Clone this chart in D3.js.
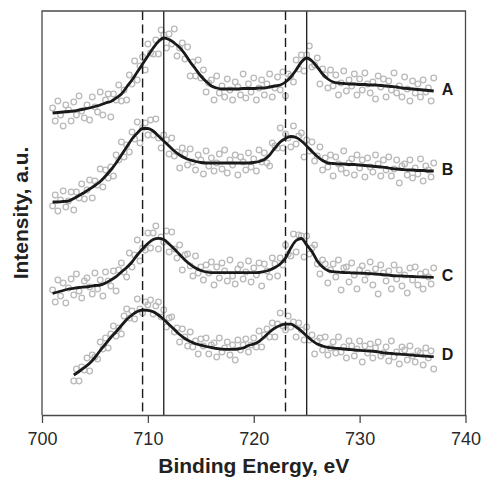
<!DOCTYPE html>
<html><head><meta charset="utf-8">
<script src="https://cdn.jsdelivr.net/npm/d3@7"></script>
<style>body{margin:0;background:#fff}svg{display:block}</style>
</head><body>
<svg id="chart" width="482" height="477"></svg>
<script>
// ---- data ----
const seriesNames = ["A", "B", "C", "D"];
const xTicks = [700, 710, 720, 730, 740];
const dashedRefs = [709.5, 723.0];
const solidRefs = [711.5, 725.0];

// fitted curves (0.5 eV grid)
const fitStart = [701, 701, 701, 703];
const fitStep = 0.5;
const fitA = [302,302.5,303,303.5,304,305,306,307,308.5,310,312,313.5,317,321,328,335,343,351,359,367,373.5,377,375.5,372,367.5,361,353,346,339,333.5,329,327,326,326,326,326,326.5,326.5,326.5,327,327,328,329,330,333,338,345,353,357,354,348,341,336,333,332,331.5,331,331,330.5,330.5,330,330,329.5,329,328.5,328,327,326.5,326,325.5,325,324.5,324];
const fitB = [213,213,213.5,214,216.5,219.5,222.5,226,229.5,233.5,239,245,252,260,268,276,282,286.5,286.5,284,279,274,269,264,260,257,255,253.5,252.5,252,252,252,252,252,252,252,252,252,252.5,253.5,255.5,260,267,273,276.5,278.5,277.5,274,269,263.5,258.5,254.5,252,251.5,251,251,250.5,250.5,250,249.5,249,248.5,248,247.5,246.5,246,245.5,245,245,244.5,244.5,244,244];
const fitC = [121.7,123,124.5,126,126.7,127.5,128,128.5,129.5,130,132,135,138.3,143,147.5,153,160,166,171.5,175.5,176.7,175.5,171,166,160.5,155,150.5,147,144.5,143,142.3,142.3,142.3,142.3,142.3,142.3,142.3,142.3,142.3,142.5,143.5,145,147.5,151,157,167,174.5,176.5,170,163.5,154,148,144.5,143.3,142.8,142.5,142.3,142,141.8,141.7,141.4,141,140.5,140,139.5,139.2,139,138.7,138.5,138.2,138,137.8,137.7];
const fitD = [40,43.5,47.5,51.7,57.5,64.5,71,77.5,83.3,89.5,95.5,100,103.5,105,104.7,103.3,100,95.5,90.5,85.5,80.5,76.5,73.5,71.3,69.8,68.5,67.5,66.5,65.8,65.7,65.7,66,67,69.5,71,73.5,78,83,87,89.5,90.8,90.8,88,84,79,74.5,71,69,67.7,67,66.5,66,65.5,65,64.6,64.3,64,63.5,62.7,62,61.5,61,60.7,60.3,59.8,59.3,59,58.6,58.3];

// measured points (0.25 eV grid)
const dataStart = [701, 701, 701, 703];
const dataStep = 0.25;
const dataA = [307,294,314,300,289,310,305,294,313,300,319,304,297,310,295,318,308,303,323,300,315,321,298,321,315,330,314,325,315,340,331,354,335,349,358,345,371,362,361,375,361,385,380,367,381,371,386,359,367,372,356,368,339,353,339,355,337,345,323,332,335,315,339,322,329,318,336,325,315,333,328,320,341,317,331,323,337,315,327,335,320,331,341,318,327,338,325,343,319,341,339,333,355,346,360,344,360,369,348,350,357,331,346,340,327,345,329,340,320,332,344,324,335,329,341,320,336,325,342,331,322,333,316,339,328,336,318,334,325,342,322,329,318,338,326,314,334,322,331,318,335,323,327,314,337];
const dataB = [209,220,204,215,224,208,214,223,205,223,217,231,216,225,235,217,234,230,246,228,245,237,248,239,260,255,273,258,270,263,283,276,293,272,287,292,280,295,280,296,277,267,280,275,261,277,259,263,247,267,261,250,266,253,245,260,255,241,264,249,257,244,252,261,246,265,242,255,250,260,240,258,253,245,262,248,256,244,265,253,262,252,249,272,269,267,287,267,281,277,268,289,271,279,282,258,275,264,273,254,259,268,245,257,248,260,239,258,251,246,264,242,252,256,240,260,247,255,238,257,248,243,260,251,239,255,245,258,239,246,255,232,249,251,240,255,237,247,241,256,234,249,245,238,252];
const dataC = [125,113,135,119,132,112,127,136,120,141,124,117,134,137,128,121,142,126,135,119,143,134,129,144,124,145,152,143,138,162,148,160,175,154,167,165,182,167,182,189,166,178,173,184,163,183,166,157,170,145,160,161,149,139,159,142,148,135,150,142,153,130,148,137,152,144,134,155,139,131,146,150,136,143,154,133,147,140,152,129,151,144,138,157,151,139,157,150,170,161,159,181,163,180,179,158,179,161,167,170,151,141,155,151,132,145,151,138,155,125,147,148,133,152,140,126,145,149,135,142,153,130,146,121,150,142,134,144,126,150,136,145,129,140,122,147,135,148,130,141,126,143,138,131,147];
const dataD = [34,46,34,48,45,57,44,60,58,56,73,66,77,67,81,89,79,87,81,99,106,97,104,96,116,106,102,113,110,115,101,109,113,98,105,88,97,98,83,87,73,86,78,69,83,68,74,61,76,69,77,61,70,72,58,77,63,67,73,60,70,55,75,65,70,76,63,70,77,68,84,68,80,86,78,92,78,91,102,89,85,99,88,93,78,92,85,75,88,75,80,61,74,77,65,78,60,67,73,62,78,63,68,57,74,69,59,66,74,53,69,62,71,57,67,73,59,62,68,54,74,58,63,51,68,65,55,69,59,53,64,62,50,67,57,64,46];

const fits = [fitA, fitB, fitC, fitD];
const points = [dataA, dataB, dataC, dataD];

// ---- drawing ----
const svg = d3.select("#chart");
const pLeft = 42, pRight = 465.5, pTop = 11, pBottom = 415;
const x = d3.scaleLinear().domain([700, 740]).range([pLeft, pRight]);
const y = d3.scaleLinear().domain([0, 404]).range([pBottom, pTop]);

const font = "Liberation Sans, Arial, Helvetica, sans-serif";

// scatter
points.forEach((arr, k) => {
  svg.append("g").selectAll("circle")
    .data(arr.map((v, i) => ({e: dataStart[k] + i * dataStep, v})))
    .join("circle")
    .attr("cx", d => x(d.e))
    .attr("cy", d => y(d.v))
    .attr("r", 2.8)
    .attr("fill", "none")
    .attr("stroke", "#bababa")
    .attr("stroke-width", 1.3);
});

// reference lines
svg.append("g").selectAll("line")
  .data(dashedRefs).join("line")
  .attr("x1", d => x(d)).attr("x2", d => x(d))
  .attr("y1", pTop).attr("y2", pBottom)
  .attr("stroke", "#1a1a1a").attr("stroke-width", 1.4)
  .attr("stroke-dasharray", "9,4.5");
svg.append("g").selectAll("line")
  .data(solidRefs).join("line")
  .attr("x1", d => x(d)).attr("x2", d => x(d))
  .attr("y1", pTop).attr("y2", pBottom)
  .attr("stroke", "#1a1a1a").attr("stroke-width", 1.3);

// fitted lines
const line = d3.line().x(d => x(d.e)).y(d => y(d.v)).curve(d3.curveMonotoneX);
fits.forEach((arr, k) => {
  const pts = arr.map((v, i) => ({e: fitStart[k] + i * fitStep, v}));
  svg.append("path").datum(pts)
    .attr("d", line)
    .attr("fill", "none")
    .attr("stroke", "#1a1a1a")
    .attr("stroke-width", 2.8)
    .attr("stroke-linejoin", "round");
  const last = pts[pts.length - 1];
  svg.append("text")
    .attr("x", x(last.e) + 8)
    .attr("y", y(last.v) - 2)
    .attr("dominant-baseline", "central")
    .attr("font-family", font)
    .attr("font-weight", "bold")
    .attr("font-size", 16)
    .attr("fill", "#1a1a1a")
    .text(seriesNames[k]);
});

// frame
svg.append("path")
  .attr("d", `M${pLeft},${pBottom}V${pTop}H${pRight}V${pBottom}`)
  .attr("fill", "none").attr("stroke", "#4a4a4a").attr("stroke-width", 1.3);

// x axis
const ax = svg.append("g").attr("transform", `translate(0,${pBottom})`)
  .call(d3.axisBottom(x).tickValues(xTicks).tickSize(8).tickSizeOuter(0).tickPadding(9).tickFormat(d3.format("d")));
ax.select(".domain").attr("stroke", "#4a4a4a").attr("stroke-width", 1.3);
ax.selectAll(".tick line").attr("stroke", "#4a4a4a").attr("stroke-width", 1.3);
ax.selectAll(".tick text").attr("font-family", font).attr("font-size", 18).attr("fill", "#2a2a2a");

// axis titles
svg.append("text")
  .attr("x", (pLeft + pRight) / 2).attr("y", 473)
  .attr("text-anchor", "middle")
  .attr("font-family", font).attr("font-weight", "bold").attr("font-size", 21)
  .attr("fill", "#222")
  .text("Binding Energy, eV");
svg.append("text")
  .attr("transform", `translate(28,${(pTop + pBottom) / 2}) rotate(-90)`)
  .attr("text-anchor", "middle")
  .attr("font-family", font).attr("font-weight", "bold").attr("font-size", 21)
  .attr("fill", "#222")
  .text("Intensity, a.u.");
</script>
</body></html>
